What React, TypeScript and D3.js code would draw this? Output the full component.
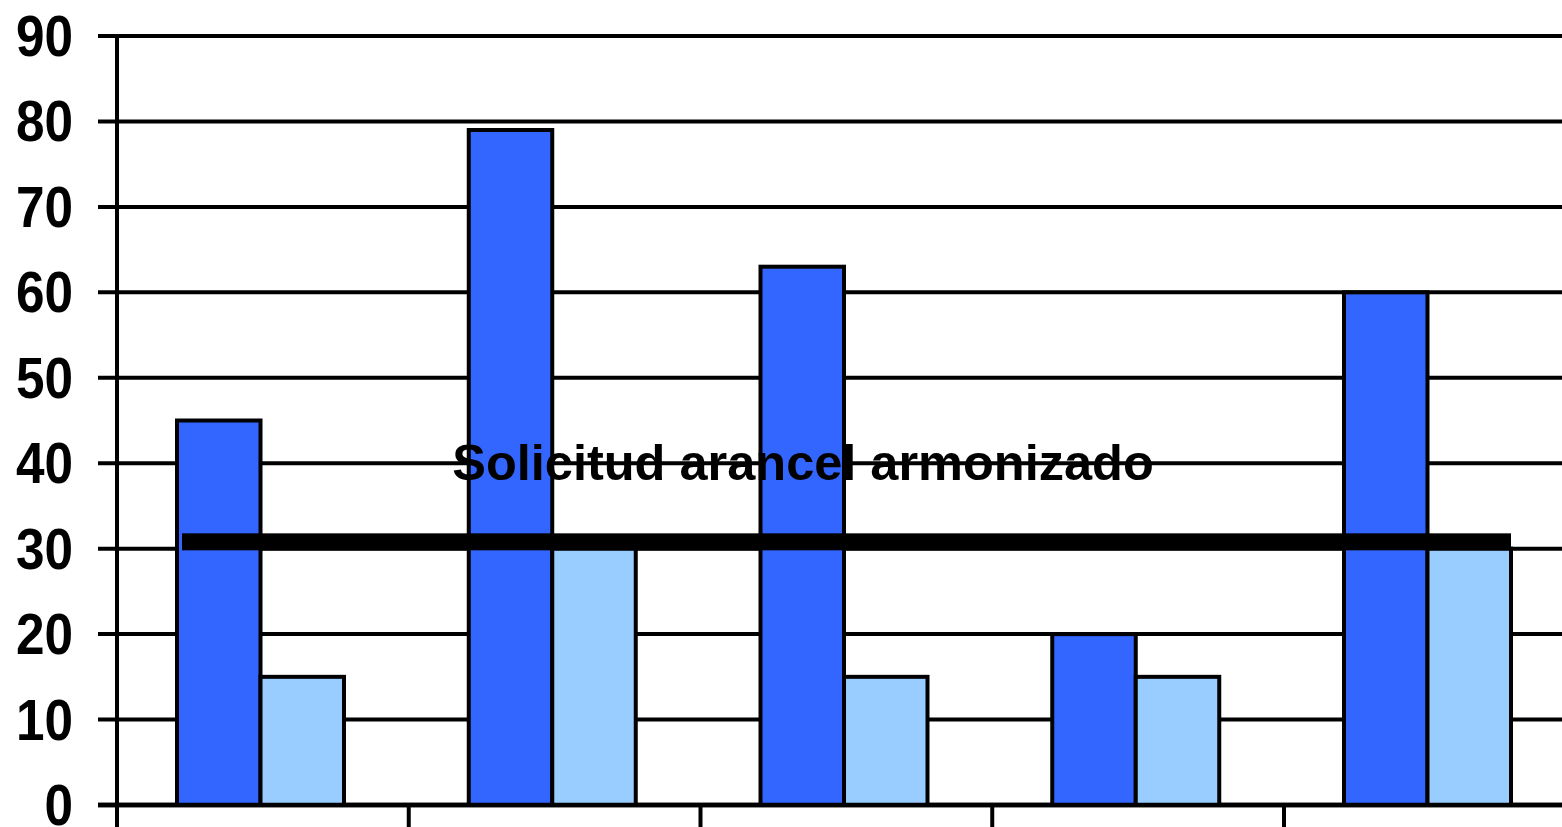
import React from "react";
import * as d3 from "d3";

const categories = ["G1", "G2", "G3", "G4", "G5"];
const seriesA = [45, 79, 63, 20, 60];
const seriesB = [15, 30, 15, 15, 30];
const yTicks = [0, 10, 20, 30, 40, 50, 60, 70, 80, 90];
const refValue = 30.8;
const refLabel = "Solicitud arancel armonizado";

const W = 1562;
const H = 827;

export default function App() {
  const left = 117;
  const bandW = 291.75;
  const x = d3
    .scaleBand<string>()
    .domain(categories)
    .range([left, left + bandW * categories.length])
    .padding(0);
  const x1 = d3.scaleBand<string>().domain(["a", "b"]).range([60, 227]).padding(0);
  const y = d3.scaleLinear().domain([0, 90]).range([805, 36]);
  const font = "'Liberation Sans', Arial, sans-serif";

  const lineX0 = (x(categories[0]) as number) + (x1("a") as number) + 5;
  const lastCat = categories[categories.length - 1];
  const lineX1 = (x(lastCat) as number) + (x1("b") as number) + x1.bandwidth();

  return (
    <svg
      width={W}
      height={H}
      style={{ position: "absolute", left: 0, top: 0, display: "block", background: "#fff" }}
    >
      {/* gridlines */}
      {yTicks.map((t) => (
        <line
          key={"g" + t}
          x1={98}
          x2={W + 20}
          y1={y(t)}
          y2={y(t)}
          stroke="#000"
          strokeWidth={t === 0 ? 4.5 : 4}
        />
      ))}
      {/* y labels */}
      {yTicks.map((t) => (
        <text
          key={"l" + t}
          transform={`translate(73,${y(t)}) scale(0.9,1)`}
          x={0}
          y={0}
          textAnchor="end"
          dominantBaseline="central"
          fontFamily={font}
          fontWeight="bold"
          fontSize={57}
          fill="#000"
        >
          {t}
        </text>
      ))}
      {/* bars */}
      {categories.map((c, i) => (
        <g key={c} transform={`translate(${x(c)},0)`}>
          <rect
            x={x1("a")}
            y={y(seriesA[i])}
            width={x1.bandwidth()}
            height={y(0) - y(seriesA[i])}
            fill="#3366FF"
            stroke="#000"
            strokeWidth={4}
          />
          <rect
            x={x1("b")}
            y={y(seriesB[i])}
            width={x1.bandwidth()}
            height={y(0) - y(seriesB[i])}
            fill="#99CCFF"
            stroke="#000"
            strokeWidth={4}
          />
        </g>
      ))}
      {/* axes */}
      <line x1={left} x2={left} y1={y(90) - 2} y2={H} stroke="#000" strokeWidth={4} />
      <line x1={98} x2={W + 20} y1={y(0)} y2={y(0)} stroke="#000" strokeWidth={4.5} />
      {categories.slice(1).map((c) => (
        <line
          key={"t" + c}
          x1={x(c) as number}
          x2={x(c) as number}
          y1={y(0)}
          y2={H}
          stroke="#000"
          strokeWidth={4}
        />
      ))}
      {/* reference line */}
      <rect
        x={lineX0}
        y={y(refValue) - 8.5}
        width={lineX1 - lineX0}
        height={17}
        fill="#000"
      />
      <text
        x={803}
        y={480}
        textAnchor="middle"
        fontFamily={font}
        fontWeight="bold"
        fontSize={50.5}
        fill="#000"
      >
        {refLabel}
      </text>
    </svg>
  );
}
